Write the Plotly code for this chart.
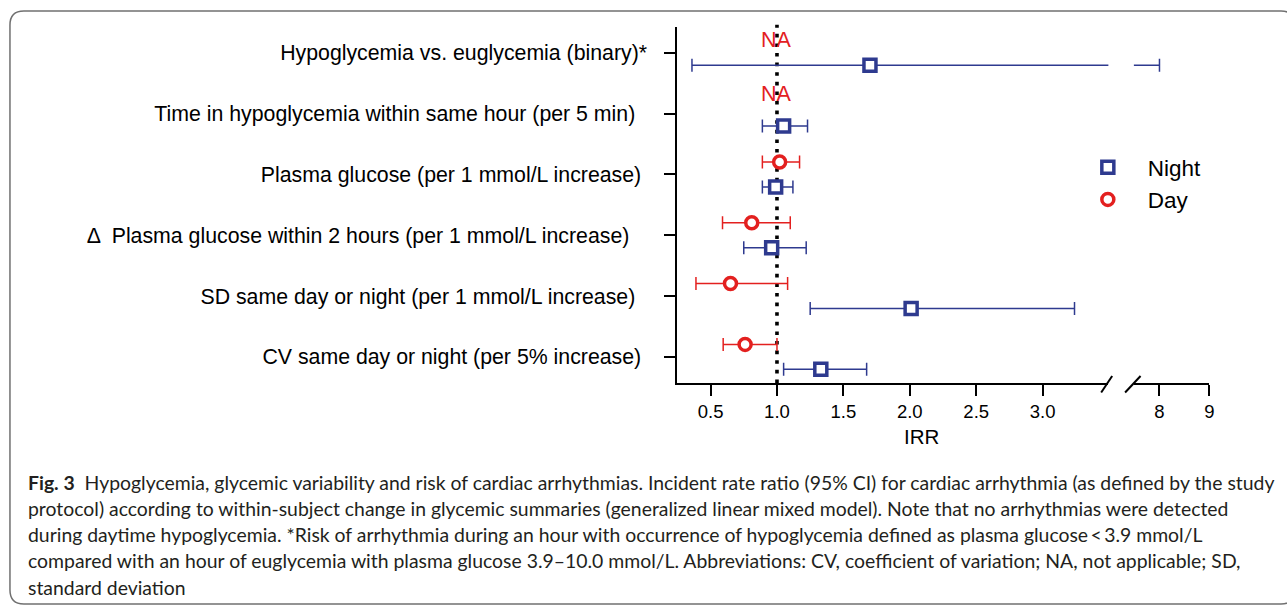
import plotly.graph_objects as go

# ---------------- data ----------------
categories = [
    "Hypoglycemia vs. euglycemia (binary)*",
    "Time in hypoglycemia within same hour (per 5 min)",
    "Plasma glucose (per 1 mmol/L increase)",
    "Δ  Plasma glucose within 2 hours (per 1 mmol/L increase)",
    "SD same day or night (per 1 mmol/L increase)",
    "CV same day or night (per 5% increase)",
]
label_pad = [0, 2, 1, 3, 2, 1]  # trailing spaces after label (as typeset)

night_irr = [1.70, 1.05, 0.99, 0.96, 2.01, 1.33]
night_lo = [0.36, 0.89, 0.89, 0.75, 1.25, 1.05]
night_hi = [8.00, 1.23, 1.12, 1.22, 3.24, 1.675]

day_irr = [None, None, 1.02, 0.81, 0.65, 0.76]
day_lo = [None, None, 0.89, 0.59, 0.39, 0.595]
day_hi = [None, None, 1.17, 1.10, 1.08, 1.00]
day_na = [True, True, False, False, False, False]

x_ticks_left = [0.5, 1.0, 1.5, 2.0, 2.5, 3.0]
x_ticks_right = [8, 9]
reference_irr = 1.0

caption_lines = [
    "<b>Fig. 3</b>\u00a0\u00a0Hypoglycemia, glycemic variability and risk of cardiac arrhythmias. Incident rate ratio (95% CI) for cardiac arrhythmia (as defined by the study",
    "protocol) according to within-subject change in glycemic summaries (generalized linear mixed model). Note that no arrhythmias were detected",
    "during daytime hypoglycemia. *Risk of arrhythmia during an hour with occurrence of hypoglycemia defined as plasma glucose\u2009<\u20093.9 mmol/L",
    "compared with an hour of euglycemia with plasma glucose 3.9–10.0 mmol/L. Abbreviations: CV, coefficient of variation; NA, not applicable; SD,",
    "standard deviation",
]

# ---------------- style ----------------
W, H = 1287, 607
BLUE = "#2E3A8F"
RED = "#E3201F"
FONT = "Liberation Sans, Arial, sans-serif"
CAP_FONT = "Lato, Open Sans, sans-serif"

def px(x):
    return x / W

def py(y):
    return 1 - y / H

n = len(categories)
idx = list(range(n))
off = 0.205
y_night = [i + off for i in idx]
y_day = [i - off for i in idx]

def minus(v, lo):
    return [None if a is None else a - b for a, b in zip(v, lo)]

def plus(v, hi):
    return [None if a is None else b - a for a, b in zip(v, hi)]

fig = go.Figure()

night_common = dict(
    mode="markers",
    marker=dict(symbol="square", size=12, color="white", line=dict(color=BLUE, width=3.5)),
    error_x=dict(type="data", symmetric=False, array=plus(night_irr, night_hi),
                 arrayminus=minus(night_irr, night_lo), color=BLUE, thickness=1.5, width=6.5),
)

fig.add_trace(go.Scatter(x=night_irr, y=y_night, name="Night", xaxis="x", yaxis="y",
                         legendgroup="n", **night_common))
fig.add_trace(go.Scatter(
    x=day_irr, y=y_day, name="Day", xaxis="x", yaxis="y", mode="markers", legendgroup="d",
    marker=dict(symbol="circle", size=12, color="white", line=dict(color=RED, width=3.5)),
    error_x=dict(type="data", symmetric=False, array=plus(day_irr, day_hi),
                 arrayminus=minus(day_irr, day_lo), color=RED, thickness=1.5, width=6.5),
))
# same night estimates drawn on the right (broken) part of the axis
fig.add_trace(go.Scatter(x=night_irr, y=y_night, name="Night", xaxis="x2", yaxis="y",
                         showlegend=False, **night_common))

# NA labels for day estimates
na_shift = [0, 7]
k = 0
for i, na in enumerate(day_na):
    if na:
        fig.add_annotation(x=reference_irr, y=y_day[i], xref="x", yref="y", text="NA",
                           yshift=na_shift[k], showarrow=False,
                           font=dict(family=FONT, size=21.5, color=RED))
        k += 1

# reference line at IRR = 1
fig.add_shape(type="line", xref="x", yref="y domain", x0=reference_irr, x1=reference_irr,
              y0=0, y1=1.005, layer="below", line=dict(color="black", width=3.6, dash="3.6px,6px"))

# axis break slashes
for x0, x1 in [(1105.5, 1116.5), (1129.5, 1145)]:
    fig.add_shape(type="line", xref="paper", yref="paper", x0=px(x0), x1=px(x1),
                  y0=py(392.5), y1=py(376), line=dict(color="black", width=2))

# frame around the figure
r = 14
x0f, y0f, x1f, y1f = 10, 11, 1300, 604
path = (f"M {px(x0f + r)},{py(y0f)} L {px(x1f - r)},{py(y0f)} "
        f"Q {px(x1f)},{py(y0f)} {px(x1f)},{py(y0f + r)} L {px(x1f)},{py(y1f - r)} "
        f"Q {px(x1f)},{py(y1f)} {px(x1f - r)},{py(y1f)} L {px(x0f + r)},{py(y1f)} "
        f"Q {px(x0f)},{py(y1f)} {px(x0f)},{py(y1f - r)} L {px(x0f)},{py(y0f + r)} "
        f"Q {px(x0f)},{py(y0f)} {px(x0f + r)},{py(y0f)} Z")
fig.add_shape(type="path", xref="paper", yref="paper", path=path,
              line=dict(color="#707070", width=1.5))

# caption
for k, line in enumerate(caption_lines):
    fig.add_annotation(x=px(26), y=py(482 + k * 26.3), xref="paper", yref="paper",
                       xanchor="left", yanchor="middle", text=line, showarrow=False,
                       align="left", font=dict(family=CAP_FONT, size=19.4, color="#231F20"))

# x-axis title
fig.add_annotation(x=px(945), y=py(450), xref="paper", yref="paper", text="IRR",
                   showarrow=False, font=dict(family=FONT, size=20.5, color="black"))

tick_common = dict(showline=True, linewidth=2, linecolor="black", ticks="outside",
                   ticklen=11, tickwidth=2, tickcolor="black", showgrid=False, zeroline=False,
                   tickfont=dict(family=FONT, size=18.5, color="black"))

fig.update_layout(
    width=W, height=H,
    margin=dict(l=0, r=0, t=0, b=0),
    paper_bgcolor="white", plot_bgcolor="white",
    showlegend=True,
    legend=dict(x=px(1072), y=py(146), xanchor="left", yanchor="top",
                font=dict(family=FONT, size=22.5, color="black"), itemwidth=70,
                traceorder="grouped", tracegroupgap=0, bgcolor="rgba(0,0,0,0)"),
    xaxis=dict(domain=[px(680), px(1112.7)], range=[0.25, 3.495], anchor="y",
               tickvals=x_ticks_left, ticktext=[f"{v:.1f}" for v in x_ticks_left], **tick_common),
    xaxis2=dict(domain=[px(1138.3), px(1214)], range=[7.486, 9.0], anchor="y",
                tickvals=x_ticks_right, ticktext=[str(v) for v in x_ticks_right], **tick_common),
    yaxis=dict(domain=[py(383), py(26.5)], range=[5.43, -0.433], anchor="x",
               tickvals=idx, ticktext=[c + "\u00a0" * p for c, p in zip(categories, label_pad)],
               ticklabelstandoff=13, **tick_common),
)
fig.update_yaxes(tickfont=dict(size=21.3))

fig.write_html("out.html", config={"displayModeBar": False},
               post_script="document.body.style.margin='0';")
